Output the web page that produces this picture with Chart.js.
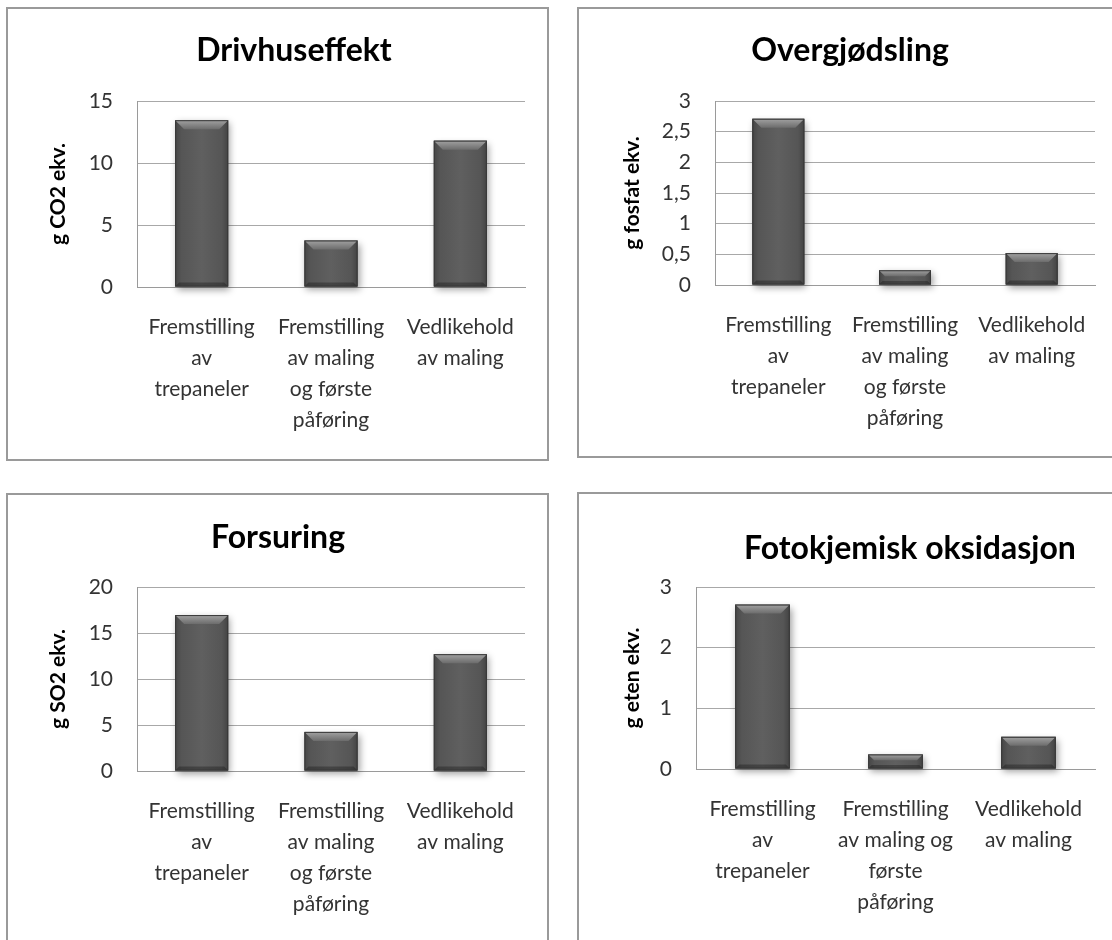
<!DOCTYPE html>
<html>
<head>
<meta charset="utf-8">
<script src="https://cdn.jsdelivr.net/npm/chart.js@4.4.1/dist/chart.umd.min.js"></script>
<style>
  html, body { margin: 0; padding: 0; background: #fff; width: 1112px; height: 940px; overflow: hidden; position: relative; }
  .frame { position: absolute; border: 2px solid #9a9a9a; box-sizing: border-box; }
  canvas { position: absolute; }
</style>
</head>
<body>
<div class="frame" style="left:6px;top:7px;width:543px;height:454px"></div>
<div class="frame" style="left:577px;top:7px;width:560px;height:451px"></div>
<div class="frame" style="left:6px;top:493px;width:543px;height:480px"></div>
<div class="frame" style="left:577px;top:492px;width:560px;height:480px"></div>

<canvas id="drivhus"></canvas>
<canvas id="overgjodsling"></canvas>
<canvas id="forsuring"></canvas>
<canvas id="fotokjemisk"></canvas>

<script>
// Life-cycle stages (x categories)
const stagesA = [
  ["Fremstilling", "av", "trepaneler"],
  ["Fremstilling", "av maling", "og første", "påføring"],
  ["Vedlikehold", "av maling"]
];
const stagesB = [
  ["Fremstilling", "av", "trepaneler"],
  ["Fremstilling", "av maling og", "første", "påføring"],
  ["Vedlikehold", "av maling"]
];

// Impact per stage
const drivhuseffekt = [13.45, 3.75, 11.8];   // g CO2 ekv.
const overgjodsling = [2.71, 0.24, 0.52];    // g fosfat ekv.
const forsuring     = [16.95, 4.25, 12.7];   // g SO2 ekv.
const fotokjemisk   = [2.71, 0.24, 0.53];    // g eten ekv.

// Value-axis tick labels (Norwegian decimal comma)
const ticksDrivhus    = ["0", "5", "10", "15"];
const ticksOvergjod   = ["0", "0,5", "1", "1,5", "2", "2,5", "3"];
const ticksForsuring  = ["0", "5", "10", "15", "20"];
const ticksFotokjemi  = ["0", "1", "2", "3"];

const FONT = "Lato, 'Open Sans', sans-serif";

// Bevelled, shadowed bar look
const bevelBars = {
  id: 'bevelBars',
  beforeDatasetsDraw(chart) {
    const ctx = chart.ctx;
    chart.getDatasetMeta(0).data.forEach(el => {
      const p = el.getProps(['x', 'y', 'base', 'width'], true);
      const l = p.x - p.width / 2, t = Math.min(p.y, p.base), h = Math.abs(p.base - p.y);
      ctx.save();
      ctx.shadowColor = 'rgba(0,0,0,0.38)';
      ctx.shadowBlur = 7;
      ctx.shadowOffsetX = 2;
      ctx.shadowOffsetY = 3;
      ctx.fillStyle = '#4a4a4a';
      ctx.fillRect(l, t, p.width, h);
      ctx.restore();
    });
  },
  afterDatasetsDraw(chart) {
    const ctx = chart.ctx;
    chart.getDatasetMeta(0).data.forEach(el => {
      const p = el.getProps(['x', 'y', 'base', 'width'], true);
      const w = p.width, l = p.x - w / 2, r = l + w;
      const t = Math.min(p.y, p.base), b = Math.max(p.y, p.base), h = b - t;
      const bv = Math.min(9, h / 2.4);
      ctx.save();
      // body shading across the width
      const g = ctx.createLinearGradient(l, 0, r, 0);
      g.addColorStop(0, 'rgba(0,0,0,0.22)');
      g.addColorStop(0.12, 'rgba(0,0,0,0.04)');
      g.addColorStop(0.5, 'rgba(255,255,255,0.04)');
      g.addColorStop(0.88, 'rgba(0,0,0,0.04)');
      g.addColorStop(1, 'rgba(0,0,0,0.25)');
      ctx.fillStyle = g;
      ctx.fillRect(l, t, w, h);
      // top bevel
      const gt = ctx.createLinearGradient(0, t, 0, t + bv);
      gt.addColorStop(0, '#a2a2a2');
      gt.addColorStop(1, '#6c6c6c');
      ctx.fillStyle = gt;
      ctx.beginPath();
      ctx.moveTo(l, t); ctx.lineTo(r, t);
      ctx.lineTo(r - bv, t + bv); ctx.lineTo(l + bv, t + bv);
      ctx.closePath(); ctx.fill();
      // bottom bevel
      const bb = Math.min(4, h / 4);
      ctx.fillStyle = 'rgba(0,0,0,0.28)';
      ctx.beginPath();
      ctx.moveTo(l, b); ctx.lineTo(r, b);
      ctx.lineTo(r - bb, b - bb); ctx.lineTo(l + bb, b - bb);
      ctx.closePath(); ctx.fill();
      // outline
      ctx.strokeStyle = '#383838';
      ctx.lineWidth = 1;
      ctx.strokeRect(l + 0.5, t + 0.5, w - 1, h - 1);
      ctx.restore();
    });
  }
};

function panel(id, box, title, yTitle, stages, values, tickLabels, max, step) {
  const cv = document.getElementById(id);
  cv.width = box.w; cv.height = box.h;
  cv.style.left = box.x + 'px'; cv.style.top = box.y + 'px';
  cv.style.width = box.w + 'px'; cv.style.height = box.h + 'px';
  return new Chart(cv, {
    type: 'bar',
    data: {
      labels: stages,
      datasets: [{
        data: values,
        xAxisID: 'x',
        yAxisID: 'y',
        backgroundColor: '#595959',
        borderWidth: 0,
        categoryPercentage: 1,
        barPercentage: 0.41
      }]
    },
    options: {
      responsive: false,
      devicePixelRatio: 1,
      animation: false,
      events: [],
      layout: { padding: 0 },
      plugins: {
        legend: { display: false },
        tooltip: { enabled: false },
        title: {
          display: true,
          text: title,
          color: '#000',
          font: { family: FONT, size: 32, weight: 'bold', lineHeight: 1.2 },
          padding: { top: box.titleTop, bottom: box.titleBottom }
        }
      },
      scales: {
        x: {
          grid: { display: false, drawTicks: false },
          border: { display: true, color: '#9a9a9a', width: 1 },
          ticks: {
            color: '#333',
            padding: 25,
            maxRotation: 0,
            autoSkip: false,
            font: { family: FONT, size: 21, lineHeight: '31px' }
          },
          afterFit: s => { s.height = box.xAxisH; s.paddingLeft = 0; s.paddingRight = 0; }
        },
        y: {
          position: 'left',
          min: 0,
          max: max,
          ticks: {
            stepSize: step,
            color: '#333',
            padding: 24,
            font: { family: FONT, size: 21 },
            callback: (v, i) => tickLabels[i]
          },
          grid: { color: '#a8a8a8', lineWidth: 1, drawTicks: false },
          border: { display: true, color: '#9a9a9a', width: 1 },
          title: {
            display: true,
            text: yTitle,
            color: '#000',
            font: { family: FONT, size: 21, weight: 'bold', lineHeight: 1.2 },
            padding: { top: box.yTitlePad, bottom: 0 }
          },
          afterFit: s => { s.width = box.axisW; }
        },
        // empty right-hand margin strip so the title can span the whole canvas
        yMargin: {
          type: 'linear',
          axis: 'y',
          position: 'right',
          display: box.padRight > 0,
          min: 0,
          max: 1,
          grid: { display: false, drawTicks: false },
          border: { display: false },
          ticks: { display: false },
          afterFit: s => { s.width = box.padRight; s.paddingTop = 0; s.paddingBottom = 0; }
        }
      }
    },
    plugins: [bevelBars]
  });
}

panel('drivhus',
  { x: 40, y: 9, w: 508, h: 450, axisW: 97, padRight: 23, titleTop: 22, titleBottom: 31.6, xAxisH: 172, yTitlePad: 6 },
  'Drivhuseffekt', 'g CO2 ekv.', stagesA, drivhuseffekt, ticksDrivhus, 15, 5);

panel('overgjodsling',
  { x: 600, y: 9, w: 500, h: 447, axisW: 115, padRight: 5, titleTop: 22, titleBottom: 31.6, xAxisH: 171, yTitlePad: 20 },
  'Overgjødsling', 'g fosfat ekv.', stagesA, overgjodsling, ticksOvergjod, 3, 0.5);

panel('forsuring',
  { x: 31, y: 495, w: 494, h: 445, axisW: 106, padRight: 0, titleTop: 23, titleBottom: 30.6, xAxisH: 169, yTitlePad: 15 },
  'Forsuring', 'g SO2 ekv.', stagesA, forsuring, ticksForsuring, 20, 5);

panel('fotokjemisk',
  { x: 620, y: 494, w: 580, h: 446, axisW: 76, padRight: 105, titleTop: 35, titleBottom: 19.6, xAxisH: 171, yTitlePad: 0 },
  'Fotokjemisk oksidasjon', 'g eten ekv.', stagesB, fotokjemisk, ticksFotokjemi, 3, 1);
</script>
</body>
</html>
